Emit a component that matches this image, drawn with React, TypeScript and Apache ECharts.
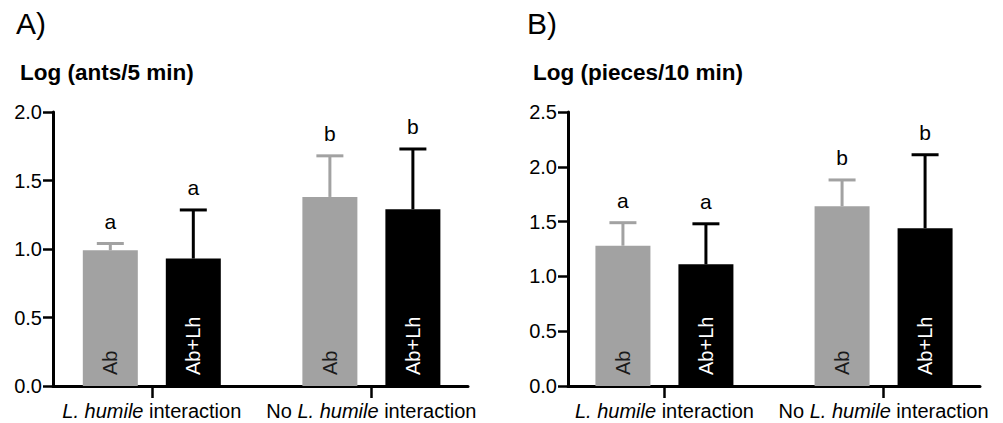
import React, { useEffect, useRef } from "react";
import * as echarts from "echarts";

// ---- data ----
const groups = ["L. humile interaction", "No L. humile interaction"];
const speciesName = "L. humile";
const seriesNames = ["Ab", "Ab+Lh"];

// Panel A: Log (ants/5 min)
const antsAbMean = [0.99, 1.38];
const antsAbErr = [0.05, 0.3];
const antsAbLhMean = [0.93, 1.29];
const antsAbLhErr = [0.355, 0.44];
const antsLettersAb = ["a", "b"];
const antsLettersAbLh = ["a", "b"];
const antsYMax = 2.0;

// Panel B: Log (pieces/10 min)
const piecesAbMean = [1.28, 1.64];
const piecesAbErr = [0.21, 0.24];
const piecesAbLhMean = [1.11, 1.44];
const piecesAbLhErr = [0.37, 0.67];
const piecesLettersAb = ["a", "b"];
const piecesLettersAbLh = ["a", "b"];
const piecesYMax = 2.5;

const yInterval = 0.5;
const groupPositions = [0, 1];

const FONT = "'Liberation Sans', Arial, Helvetica, sans-serif";
const GRAY = "#a2a2a2";
const BLACK = "#000000";

function groupLabel(i: number) {
  const g = groups[i] ?? "";
  return g.replace(speciesName, `{i|${speciesName}}`);
}

function makeBarSeries(
  axisIndex: number,
  means: number[],
  errs: number[],
  letters: string[],
  name: string,
  offset: number,
  color: string,
  textColor: string
) {
  return {
    type: "custom",
    name,
    xAxisIndex: axisIndex,
    yAxisIndex: axisIndex,
    data: means.map((m, i) => [groupPositions[i], m]),
    clip: false,
    z: 5,
    renderItem: (params: any, api: any) => {
      const g = api.value(0);
      const m = api.value(1);
      const e = errs[params.dataIndex];
      const base = api.coord([g, 0]);
      const top = api.coord([g, m]);
      const et = api.coord([g, m + e]);
      const cx = base[0] + offset;
      return {
        type: "group",
        children: [
          {
            type: "line",
            shape: { x1: cx, y1: top[1], x2: cx, y2: et[1] },
            style: { stroke: color, lineWidth: 3 },
          },
          {
            type: "line",
            shape: { x1: cx - 13.5, y1: et[1], x2: cx + 13.5, y2: et[1] },
            style: { stroke: color, lineWidth: 3 },
          },
          {
            type: "rect",
            shape: { x: cx - 27.5, y: top[1], width: 55, height: base[1] - top[1] },
            style: { fill: color },
          },
          {
            type: "text",
            x: cx,
            y: et[1] - 12,
            style: {
              text: letters[params.dataIndex],
              fill: "#000",
              fontSize: 21,
              fontFamily: FONT,
              align: "center",
              verticalAlign: "bottom",
            },
          },
          {
            type: "text",
            x: cx,
            y: base[1] - 11,
            rotation: Math.PI / 2,
            style: {
              text: name,
              fill: textColor,
              fontSize: 20,
              fontFamily: FONT,
              align: "left",
              verticalAlign: "middle",
            },
          },
        ],
      };
    },
  };
}

function makeXAxis(gridIndex: number, min: number, max: number) {
  return {
    type: "value",
    gridIndex,
    min,
    max,
    axisLine: { show: true, onZero: false, lineStyle: { color: "#000", width: 3 } },
    axisTick: {
      show: true,
      customValues: groupPositions,
      length: 12,
      lineStyle: { color: "#000", width: 2.5 },
    },
    axisLabel: {
      show: true,
      customValues: groupPositions,
      margin: 15,
      fontSize: 20,
      color: "#000",
      fontFamily: FONT,
      formatter: (v: number) => groupLabel(Math.round(v)),
      rich: {
        i: { fontStyle: "italic", fontSize: 20, color: "#000", fontFamily: FONT },
      },
    },
    splitLine: { show: false },
  };
}

function makeYAxis(gridIndex: number, max: number) {
  return {
    type: "value",
    gridIndex,
    min: 0,
    max,
    interval: yInterval,
    axisLine: { show: true, onZero: false, lineStyle: { color: "#000", width: 3 } },
    axisTick: { show: true, length: 10, lineStyle: { color: "#000", width: 2.5 } },
    axisLabel: {
      fontSize: 20,
      color: "#000",
      fontFamily: FONT,
      margin: 11,
      formatter: (v: number) => v.toFixed(1),
    },
    splitLine: { show: false },
  };
}

export default function App() {
  const ref = useRef<HTMLDivElement>(null);
  useEffect(() => {
    document.body.style.margin = "0";
    if (!ref.current) return;
    const chart = echarts.init(ref.current, null, { renderer: "svg" });
    chart.setOption({
      animation: false,
      backgroundColor: "#fff",
      textStyle: { fontFamily: FONT },
      grid: [
        { left: 53, top: 112, width: 415, height: 274 },
        { left: 568, top: 112, width: 412, height: 274 },
      ],
      xAxis: [makeXAxis(0, -0.45, 1.44), makeXAxis(1, -0.44, 1.44)],
      yAxis: [makeYAxis(0, antsYMax), makeYAxis(1, piecesYMax)],
      graphic: [
        { type: "text", x: 16, y: 23, style: { text: "A)", fontSize: 30, fontFamily: FONT, fill: "#000", verticalAlign: "middle" } },
        { type: "text", x: 20, y: 72, style: { text: "Log (ants/5 min)", fontSize: 22.5, fontWeight: "bold", fontFamily: FONT, fill: "#000", verticalAlign: "middle" } },
        { type: "text", x: 527, y: 23, style: { text: "B)", fontSize: 30, fontFamily: FONT, fill: "#000", verticalAlign: "middle" } },
        { type: "text", x: 533, y: 72, style: { text: "Log (pieces/10 min)", fontSize: 22.5, fontWeight: "bold", fontFamily: FONT, fill: "#000", verticalAlign: "middle" } },
      ],
      series: [
        makeBarSeries(0, antsAbMean, antsAbErr, antsLettersAb, seriesNames[0], -41.5, GRAY, "#1a1a1a"),
        makeBarSeries(0, antsAbLhMean, antsAbLhErr, antsLettersAbLh, seriesNames[1], 41.5, BLACK, "#fff"),
        makeBarSeries(1, piecesAbMean, piecesAbErr, piecesLettersAb, seriesNames[0], -41.5, GRAY, "#1a1a1a"),
        makeBarSeries(1, piecesAbLhMean, piecesAbLhErr, piecesLettersAbLh, seriesNames[1], 41.5, BLACK, "#fff"),
      ],
    });
    return () => chart.dispose();
  }, []);
  return <div ref={ref} style={{ width: 1003, height: 423 }} />;
}
